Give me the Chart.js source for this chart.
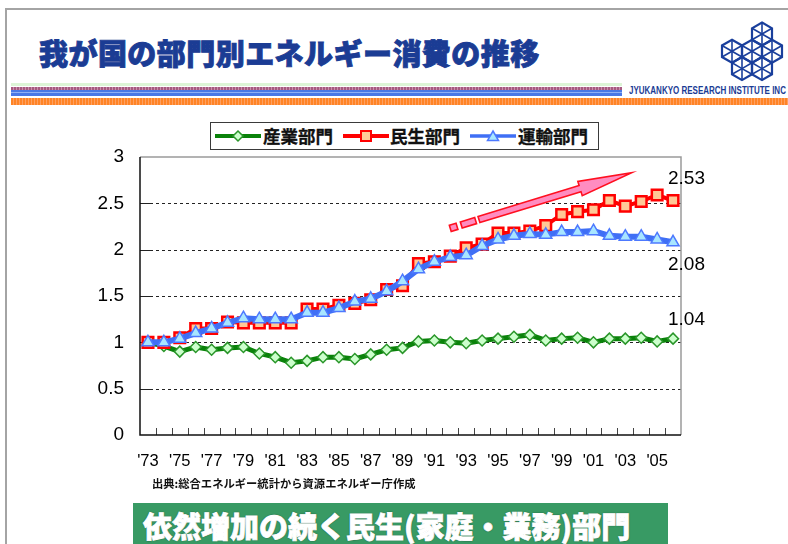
<!DOCTYPE html>
<html lang="ja">
<head>
<meta charset="utf-8">
<script src="https://cdn.jsdelivr.net/npm/chart.js@4.4.1/dist/chart.umd.min.js"></script>
<style>
  html, body { margin:0; padding:0; background:#fff; }
  body { width:788px; height:544px; position:relative; overflow:hidden; font-family:"Noto Sans CJK JP","Liberation Sans",sans-serif; }
  #frame { position:absolute; left:5px; top:8px; width:800px; height:600px; border-top:2px solid #a4a4a4; border-left:2px solid #a4a4a4; }
  #title { position:absolute; left:39px; top:37px; font-size:29px; line-height:31px; font-weight:900; color:#1b3c94; letter-spacing:0.45px; white-space:nowrap; -webkit-text-stroke:0.9px #1b3c94; }
  .stripe { position:absolute; left:11px; }
  #company { position:absolute; left:629px; top:85px; font-family:"Liberation Sans Narrow","Liberation Sans",sans-serif; font-weight:bold; font-size:10px; line-height:11px; color:#1b3c94; white-space:nowrap; transform-origin:left center; transform:scaleX(0.8); }
  #logo { position:absolute; left:0; top:0; }
  #wrap { position:absolute; left:0; top:0; width:788px; height:544px; }
  #legend { position:absolute; left:210px; top:122px; width:387px; height:26px; border:1px solid #3a3a3a; background:#fff; }
  .lg-ico { position:absolute; top:5px; }
  .lg-txt { position:absolute; top:0px; font-size:17.5px; line-height:26px; font-weight:bold; color:#111; white-space:nowrap; -webkit-text-stroke:0.3px #111; }
  #source { position:absolute; left:152px; top:476px; font-size:11.3px; line-height:14px; font-weight:bold; color:#111; white-space:nowrap; }
  #banner { position:absolute; left:133px; top:503px; width:535px; height:50px; background:#389a64; }
  #banner span { position:absolute; left:10px; top:5px; font-size:29px; line-height:34px; font-weight:900; color:#fff; white-space:nowrap; -webkit-text-stroke:0.8px #fff; text-shadow:0 0 1.5px #1d4030, 0 0 1px #1d4030; letter-spacing:0px; }
</style>
</head>
<body>
<div id="frame"></div>
<div id="title">我が国の部門別エネルギー消費の推移</div>

<div class="stripe" style="top:83px;width:611px;height:3px;background:#dcf5d6;"></div>
<div class="stripe" style="top:87px;width:611px;height:3px;background:repeating-linear-gradient(90deg,#a65a80 0 2px,#c890aa 2px 3px);"></div>
<div class="stripe" style="top:90px;width:611px;height:6px;background:linear-gradient(#4a78e6 0 2px,#8fb0f5 2px 3px,#4a78e6 3px 6px);"></div>
<div class="stripe" style="top:98px;width:777px;height:7px;background:repeating-linear-gradient(90deg,#ff8426 0 2px,#ffa060 2px 3px);"></div>
<div id="company">JYUKANKYO RESEARCH INSTITUTE INC</div>

<svg id="logo" width="788" height="100" viewBox="0 0 788 100"></svg>

<div id="wrap"><canvas id="c" width="788" height="544"></canvas></div>

<div id="legend">
  <svg class="lg-ico" style="left:4px" width="46" height="16"><line x1="0" y1="8" x2="46" y2="8" stroke="#0a820a" stroke-width="4"/><polygon points="23,3 28,8 23,13 18,8" fill="#ccffcc" stroke="#2a962a" stroke-width="1.5"/></svg>
  <div class="lg-txt" style="left:52px">産業部門</div>
  <svg class="lg-ico" style="left:132px" width="46" height="16"><line x1="0" y1="8" x2="46" y2="8" stroke="#ff0000" stroke-width="4"/><rect x="18" y="3" width="10" height="10" fill="#ffc896" stroke="#ff0000" stroke-width="2"/></svg>
  <div class="lg-txt" style="left:179px">民生部門</div>
  <svg class="lg-ico" style="left:259px" width="46" height="16"><line x1="0" y1="8" x2="46" y2="8" stroke="#3f6ff5" stroke-width="3.5"/><polygon points="23,3 28.5,12.5 17.5,12.5" fill="#a8e6ff" stroke="#4d79ff" stroke-width="1.5"/></svg>
  <div class="lg-txt" style="left:307px">運輸部門</div>
</div>

<div id="source">出典:総合エネルギー統計から資源エネルギー庁作成</div>
<div id="banner"><span>依然増加の続く民生(家庭・業務)部門</span></div>

<script>
// ---- data ----
const years = ["'73","'74","'75","'76","'77","'78","'79","'80","'81","'82","'83","'84","'85","'86","'87","'88","'89","'90","'91","'92","'93","'94","'95","'96","'97","'98","'99","'00","'01","'02","'03","'04","'05","'06"];
const industry = [1.00,0.96,0.90,0.95,0.92,0.94,0.95,0.88,0.84,0.78,0.80,0.84,0.84,0.82,0.87,0.92,0.94,1.01,1.02,1.00,0.99,1.02,1.04,1.06,1.08,1.02,1.04,1.05,1.00,1.04,1.04,1.05,1.01,1.04];
const residential = [1.00,1.00,1.05,1.15,1.15,1.22,1.21,1.21,1.21,1.21,1.36,1.36,1.40,1.42,1.46,1.57,1.61,1.85,1.87,1.93,2.02,2.06,2.18,2.18,2.20,2.26,2.38,2.41,2.43,2.53,2.47,2.52,2.59,2.53];
const transport = [1.00,1.00,1.04,1.10,1.15,1.21,1.26,1.25,1.25,1.25,1.32,1.32,1.37,1.44,1.47,1.55,1.66,1.79,1.87,1.92,1.94,2.04,2.11,2.15,2.17,2.16,2.19,2.19,2.20,2.15,2.14,2.14,2.11,2.08];
const seriesNames = ["産業部門","民生部門","運輸部門"];
const yTicks = [0,0.5,1,1.5,2,2.5,3];
const yTickLabels = ["0","0.5","1","1.5","2","2.5","3"];
const endValues = [industry[industry.length-1], residential[residential.length-1], transport[transport.length-1]];
// arrow annotation (category index, value)
const arrowFrom = [19.0, 2.23];
const arrowTo = [30.4, 2.83];

// ---- logo ----
(function(){
  const svg = document.getElementById('logo');
  const r = 11.5;
  const centers = [[762,34],[732,51.3],[752,51.3],[772,51.3],[742,68.6],[762,68.6]];
  let s = '';
  centers.forEach(([cx,cy])=>{
    const pts=[];
    for(let k=0;k<6;k++){const a=Math.PI/180*(60*k-90);pts.push([cx+r*Math.cos(a),cy+r*Math.sin(a)]);}
    s += '<polygon points="'+pts.map(p=>p[0].toFixed(1)+','+p[1].toFixed(1)).join(' ')+'" fill="none" stroke="#1a3f9c" stroke-width="2.2"/>';
    pts.forEach(p=>{ s += '<line x1="'+cx+'" y1="'+cy+'" x2="'+p[0].toFixed(1)+'" y2="'+p[1].toFixed(1)+'" stroke="#1a3f9c" stroke-width="1.6"/>'; });
  });
  svg.innerHTML = s;
})();

// ---- plugin: frame, grid, ticks, end labels, arrow ----
const deco = {
  id:'deco',
  beforeDatasetsDraw(chart){
    const {ctx, chartArea:a, scales:{x,y}} = chart;
    ctx.save();
    ctx.strokeStyle = '#222'; ctx.lineWidth = 1; ctx.setLineDash([3,3]);
    yTicks.forEach(v=>{ if(v<=0||v>=3) return; const py=Math.round(y.getPixelForValue(v))+0.5; ctx.beginPath(); ctx.moveTo(a.left+10,py); ctx.lineTo(a.right,py); ctx.stroke(); });
    ctx.setLineDash([]);
    ctx.strokeStyle = '#222'; ctx.lineWidth = 1;
    yTicks.forEach(v=>{ if(v<=0||v>=3) return; const py=Math.round(y.getPixelForValue(v))+0.5; ctx.beginPath(); ctx.moveTo(a.left,py); ctx.lineTo(a.left+10,py); ctx.stroke(); });
    ctx.strokeStyle = '#444';
    for(let i=1;i<years.length;i++){
      const px = Math.round((x.getPixelForValue(i-1)+x.getPixelForValue(i))/2)+0.5;
      ctx.beginPath(); ctx.moveTo(px,a.bottom); ctx.lineTo(px,a.bottom-7); ctx.stroke();
    }
    ctx.strokeStyle = '#9a9a9a'; ctx.lineWidth = 1.5;
    ctx.beginPath(); ctx.moveTo(a.left,a.top); ctx.lineTo(a.right,a.top); ctx.lineTo(a.right,a.bottom); ctx.stroke();
    ctx.strokeStyle = '#111'; ctx.lineWidth = 1.5;
    ctx.beginPath(); ctx.moveTo(a.left,a.top); ctx.lineTo(a.left,a.bottom); ctx.lineTo(a.right,a.bottom); ctx.stroke();
    ctx.restore();
  },
  afterDatasetsDraw(chart){
    const {ctx, chartArea:a, scales:{x,y}} = chart;
    ctx.save();
    const offs = [-19,-22,23];
    ctx.font = '19px "Liberation Sans", Arial, sans-serif';
    ctx.fillStyle = '#000'; ctx.textAlign='left'; ctx.textBaseline='middle';
    endValues.forEach((v,i)=>{ ctx.fillText(v.toFixed(2), a.right-13, y.getPixelForValue(v)+offs[i]); });
    const x0=x.getPixelForValue(arrowFrom[0]), y0=y.getPixelForValue(arrowFrom[1]);
    const x1=x.getPixelForValue(arrowTo[0]), y1=y.getPixelForValue(arrowTo[1]);
    const L=Math.hypot(x1-x0,y1-y0), ang=Math.atan2(y1-y0,x1-x0);
    ctx.translate(x0,y0); ctx.rotate(ang);
    ctx.fillStyle='#ff8cc0'; ctx.strokeStyle='#ff1020'; ctx.lineWidth=1.6; ctx.lineJoin='miter';
    const hw=3.2;
    ctx.beginPath(); ctx.rect(0,-hw,7,2*hw); ctx.fill(); ctx.stroke();
    ctx.beginPath(); ctx.rect(11.5,-hw,15,2*hw); ctx.fill(); ctx.stroke();
    const hs=L-54;
    ctx.beginPath();
    ctx.moveTo(30,-hw); ctx.lineTo(hs,-hw); ctx.lineTo(hs,-7.5); ctx.lineTo(L,0); ctx.lineTo(hs,7.5); ctx.lineTo(hs,hw); ctx.lineTo(30,hw); ctx.closePath();
    ctx.fill(); ctx.stroke();
    ctx.restore();
  }
};

new Chart(document.getElementById('c'), {
  type:'line',
  data:{
    labels: years,
    datasets:[
      { label:seriesNames[0], data:industry, order:3, borderColor:'#0a820a', borderWidth:5, pointStyle:'rectRot', pointRadius:5.5, pointBackgroundColor:'#ccffcc', pointBorderColor:'#2a962a', pointBorderWidth:1.5, tension:0, clip:false },
      { label:seriesNames[1], data:residential, order:2, borderColor:'#ff0000', borderWidth:4, pointStyle:'rect', pointRadius:7.5, pointBackgroundColor:'#ffc896', pointBorderColor:'#ff0000', pointBorderWidth:2.5, tension:0, clip:false },
      { label:seriesNames[2], data:transport, order:1, borderColor:'#3f6ff5', borderWidth:6, pointStyle:'triangle', pointRadius:7, pointBackgroundColor:'#a8e6ff', pointBorderColor:'#4d79ff', pointBorderWidth:1.5, tension:0, clip:false }
    ]
  },
  options:{
    responsive:false, animation:false, events:[],
    layout:{ padding:{ top:157, right:107, left:0, bottom:0 } },
    plugins:{ legend:{display:false}, tooltip:{enabled:false} },
    scales:{
      x:{ type:'category', offset:true,
          grid:{ display:false, drawTicks:false }, border:{ display:false },
          ticks:{ autoSkip:false, maxRotation:0, minRotation:0, padding:17, color:'#000',
                  font:{ family:'"Liberation Sans", Arial, sans-serif', size:16.5 },
                  callback:(v,i)=> i%2===0 ? years[i] : '' },
          afterFit:(s)=>{ s.height = 109; } },
      y:{ min:0, max:3,
          grid:{ display:false, drawTicks:false }, border:{ display:false },
          ticks:{ stepSize:0.5, padding:16, color:'#000',
                  font:{ family:'"Liberation Sans", Arial, sans-serif', size:19 },
                  callback:(v)=>{ const k=yTicks.indexOf(v); return k>=0 ? yTickLabels[k] : ''; } },
          afterFit:(s)=>{ s.width = 140; } }
    }
  },
  plugins:[deco]
});
</script>
</body>
</html>
